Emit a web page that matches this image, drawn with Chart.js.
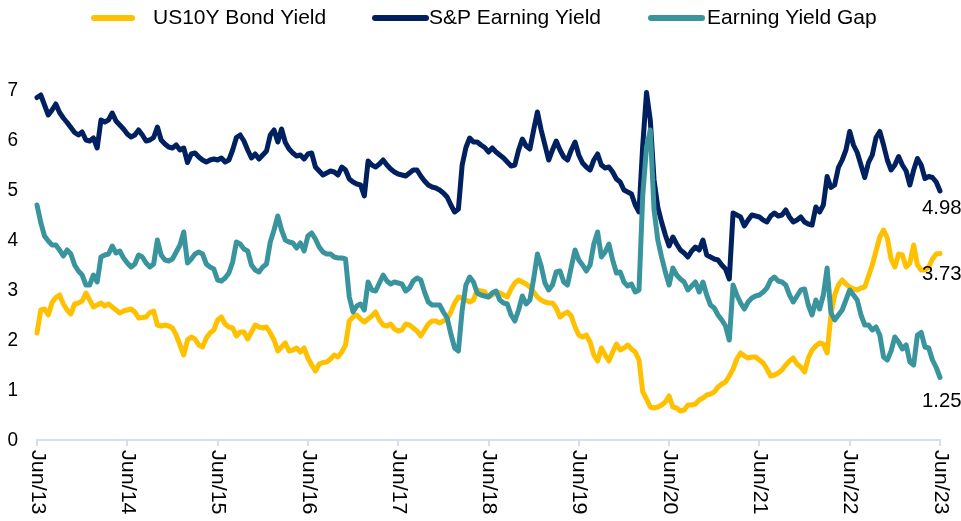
<!DOCTYPE html>
<html>
<head>
<meta charset="utf-8">
<script src="https://cdn.jsdelivr.net/npm/chart.js@4.4.1/dist/chart.umd.min.js"></script>
<style>
  html, body { margin: 0; padding: 0; background: #ffffff; }
  #wrap { width: 961px; height: 521px; }
</style>
</head>
<body>
<div id="wrap"><canvas id="c" width="961" height="521"></canvas></div>
<script>
// ---- Data (half-monthly observations, Jun 2013 .. Jun 2023) ----
const xTickLabels = ['Jun/13','Jun/14','Jun/15','Jun/16','Jun/17','Jun/18','Jun/19','Jun/20','Jun/21','Jun/22','Jun/23'];
const yTickValues = [0, 1, 2, 3, 4, 5, 6, 7];
const seriesNames = ['US10Y Bond Yield', 'S&P Earning Yield', 'Earning Yield Gap'];

const bondYield = [
  2.14,2.60,2.62,2.50,2.75,2.85,2.90,2.72,2.60,2.52,2.72,2.74,2.78,2.94,2.80,2.66,2.70,2.74,2.68,2.72,2.66,2.60,2.54,2.58,
  2.60,2.62,2.56,2.44,2.45,2.46,2.55,2.58,2.30,2.28,2.30,2.28,2.24,2.10,1.90,1.70,2.00,2.06,2.02,1.90,1.86,2.04,2.14,2.20,
  2.40,2.46,2.32,2.26,2.24,2.08,2.16,2.16,2.02,2.16,2.30,2.26,2.24,2.26,2.14,2.00,1.78,1.86,1.94,1.78,1.80,1.84,1.76,1.84,
  1.64,1.50,1.38,1.52,1.55,1.56,1.62,1.70,1.66,1.76,1.90,2.38,2.46,2.50,2.42,2.36,2.42,2.48,2.56,2.40,2.30,2.28,2.32,2.22,
  2.18,2.20,2.32,2.30,2.24,2.18,2.08,2.20,2.32,2.38,2.38,2.34,2.38,2.42,2.56,2.74,2.86,2.84,2.80,2.76,2.80,3.00,2.98,2.96,
  2.86,2.90,2.96,2.94,2.90,2.86,3.02,3.14,3.20,3.16,3.12,3.06,2.96,2.86,2.80,2.76,2.74,2.74,2.64,2.46,2.52,2.56,2.48,2.26,
  2.10,2.06,2.10,1.96,1.70,1.58,1.84,1.70,1.58,1.76,1.92,1.80,1.84,1.90,1.82,1.76,1.60,0.96,0.82,0.66,0.64,0.66,0.70,0.76,
  0.88,0.66,0.64,0.58,0.60,0.70,0.70,0.72,0.80,0.84,0.90,0.92,0.96,1.06,1.12,1.16,1.28,1.42,1.62,1.74,1.68,1.64,1.66,1.66,
  1.60,1.54,1.42,1.28,1.30,1.34,1.40,1.50,1.58,1.64,1.52,1.46,1.36,1.64,1.80,1.88,1.94,1.92,1.74,2.50,2.90,3.10,3.20,3.12,
  3.06,3.02,3.00,3.04,3.06,3.28,3.50,3.78,4.06,4.20,4.04,3.62,3.46,3.72,3.70,3.46,3.54,3.90,3.50,3.40,3.40,3.46,3.62,3.72,
  3.73
];

const spEarningYield = [
  6.85,6.90,6.70,6.50,6.60,6.72,6.55,6.44,6.35,6.25,6.15,6.10,6.16,6.00,5.98,6.04,5.84,6.40,6.36,6.40,6.54,6.38,6.30,6.22,
  6.12,6.06,6.10,6.20,6.10,5.98,6.00,6.05,6.26,6.00,5.92,5.86,5.84,5.90,5.80,5.84,5.55,5.72,5.74,5.66,5.60,5.56,5.60,5.62,
  5.60,5.64,5.56,5.60,5.80,6.05,6.10,5.98,5.80,5.64,5.72,5.62,5.70,5.78,6.10,6.20,5.96,6.22,5.95,5.82,5.74,5.68,5.70,5.62,
  5.72,5.74,5.46,5.38,5.30,5.34,5.38,5.36,5.30,5.46,5.40,5.22,5.16,5.12,5.10,4.88,5.58,5.50,5.46,5.52,5.60,5.50,5.42,5.36,
  5.32,5.30,5.28,5.34,5.40,5.40,5.28,5.18,5.10,5.06,5.04,5.00,4.94,4.86,4.70,4.56,4.62,5.50,5.85,6.04,5.96,5.96,5.90,5.85,
  5.76,5.84,5.76,5.70,5.64,5.56,5.48,5.50,5.80,6.02,5.88,5.82,6.20,6.56,6.20,5.90,5.60,5.80,5.98,5.80,5.66,5.60,5.80,5.96,
  5.70,5.54,5.46,5.40,5.60,5.72,5.50,5.44,5.46,5.36,5.22,5.16,5.00,4.96,4.92,4.70,4.56,5.90,6.95,6.40,5.20,4.66,4.36,4.10,
  3.88,4.06,3.92,3.80,3.74,3.66,3.78,3.86,3.80,4.00,3.70,3.66,3.62,3.60,3.50,3.42,3.22,4.54,4.50,4.46,4.28,4.40,4.50,4.48,
  4.46,4.40,4.36,4.48,4.54,4.48,4.50,4.60,4.46,4.36,4.40,4.46,4.36,4.32,4.30,4.66,4.56,4.70,5.27,5.05,5.10,5.45,5.60,5.80,
  6.17,5.90,5.75,5.50,5.25,5.55,5.70,6.05,6.17,5.90,5.60,5.40,5.50,5.67,5.50,5.38,5.10,5.40,5.63,5.50,5.23,5.27,5.25,5.16,
  4.98
];

const yieldGap = [
  4.70,4.35,4.08,3.98,3.90,3.90,3.80,3.68,3.80,3.72,3.50,3.38,3.30,3.10,3.10,3.30,3.16,3.66,3.70,3.72,3.88,3.74,3.78,3.64,
  3.54,3.46,3.52,3.70,3.66,3.54,3.46,3.52,4.00,3.70,3.60,3.58,3.62,3.76,3.90,4.16,3.54,3.62,3.72,3.76,3.72,3.52,3.46,3.42,
  3.20,3.18,3.24,3.34,3.56,3.96,3.92,3.82,3.78,3.50,3.40,3.36,3.46,3.52,3.96,4.20,4.48,4.20,4.00,3.96,3.94,3.84,3.94,3.78,
  4.08,4.14,4.02,3.86,3.76,3.72,3.72,3.66,3.64,3.64,3.62,2.86,2.56,2.68,2.72,2.60,3.16,3.00,2.98,3.14,3.30,3.18,3.12,3.16,
  3.14,3.12,2.98,3.04,3.18,3.24,3.20,2.96,2.76,2.70,2.70,2.70,2.56,2.44,2.12,1.84,1.78,2.60,3.10,3.26,3.16,2.94,2.90,2.88,
  2.86,2.94,2.98,2.80,2.74,2.72,2.50,2.38,2.60,2.88,2.72,2.80,3.22,3.72,3.48,3.14,3.00,3.10,3.36,3.38,3.16,3.10,3.46,3.80,
  3.60,3.50,3.38,3.50,3.92,4.16,3.66,3.76,3.92,3.60,3.34,3.36,3.16,3.08,3.12,2.96,3.00,4.90,5.86,6.20,4.60,4.00,3.66,3.36,
  3.10,3.44,3.30,3.22,3.16,3.00,3.08,3.16,2.96,3.16,2.90,2.70,2.64,2.50,2.40,2.28,2.00,3.10,2.90,2.74,2.62,2.76,2.84,2.88,
  2.90,2.96,3.04,3.20,3.26,3.18,3.16,3.10,2.90,2.76,2.88,3.00,3.02,2.70,2.50,2.80,2.62,2.90,3.44,2.55,2.40,2.50,2.60,2.80,
  3.00,2.90,2.80,2.50,2.30,2.30,2.20,2.26,2.10,1.66,1.60,1.78,2.06,1.96,1.82,1.90,1.56,1.50,2.10,2.15,1.86,1.84,1.60,1.45,
  1.25
];

// ---- Styling ----
const COLORS = { bond: '#FFC000', ey: '#002060', gap: '#3A949E' };
const AXIS_COLOR = '#D6DDF0';
const FONT_FAMILY = '"Liberation Sans", Arial, sans-serif';

function toPoints(arr) { return arr.map((v, i) => ({ x: i, y: v })); }
const stepPerYear = (bondYield.length - 1) / (xTickLabels.length - 1);

function squashedText(ctx, text, x, y, align, baseline, size, squash) {
  ctx.save();
  ctx.font = size + 'px ' + FONT_FAMILY;
  ctx.translate(x, y);
  ctx.scale(squash, 1);
  ctx.textAlign = align;
  ctx.textBaseline = baseline;
  ctx.fillStyle = '#000000';
  ctx.fillText(text, 0, 0);
  ctx.restore();
}

const decorPlugin = {
  id: 'decor',
  beforeDraw(chart) {
    const ctx = chart.ctx;
    ctx.save();
    ctx.fillStyle = '#ffffff';
    ctx.fillRect(0, 0, chart.width, chart.height);
    ctx.restore();
  },
  afterDraw(chart) {
    const ctx = chart.ctx;
    const xs = chart.scales.x, ys = chart.scales.y;
    // y tick labels
    yTickValues.forEach(v => {
      squashedText(ctx, String(v), xs.left - 19, ys.getPixelForValue(v), 'right', 'middle', 20, 0.95);
    });
    // x tick labels, rotated clockwise
    xTickLabels.forEach((lab, k) => {
      const px = xs.getPixelForValue(k * stepPerYear);
      ctx.save();
      ctx.font = '21.5px ' + FONT_FAMILY;
      ctx.translate(px, ys.bottom + 10);
      ctx.scale(0.9, 1);
      ctx.rotate(Math.PI / 2);
      ctx.textAlign = 'left';
      ctx.textBaseline = 'middle';
      ctx.fillStyle = '#000000';
      ctx.fillText(lab, 0, 0);
      ctx.restore();
    });
    // end value labels
    const last = bondYield.length - 1;
    [[spEarningYield, 17], [bondYield, 21], [yieldGap, 24]].forEach(([arr, dy]) => {
      const v = arr[last];
      squashedText(ctx, v.toFixed(2), xs.getPixelForValue(last) - 18, ys.getPixelForValue(v) + dy, 'left', 'middle', 21, 0.97);
    });
    // legend
    const legend = [
      { name: seriesNames[0], color: COLORS.bond, x0: 94, x1: 132, tx: 153 },
      { name: seriesNames[1], color: COLORS.ey, x0: 375, x1: 426, tx: 429 },
      { name: seriesNames[2], color: COLORS.gap, x0: 651, x1: 702, tx: 707 }
    ];
    legend.forEach(it => {
      ctx.save();
      ctx.strokeStyle = it.color;
      ctx.lineWidth = 6;
      ctx.lineCap = 'round';
      ctx.beginPath();
      ctx.moveTo(it.x0, 18);
      ctx.lineTo(it.x1, 18);
      ctx.stroke();
      ctx.restore();
      squashedText(ctx, it.name, it.tx, 18, 'left', 'middle', 21, 1);
    });
  }
};

const lineStyle = { borderWidth: 5, pointRadius: 0, tension: 0, borderJoinStyle: 'round', borderCapStyle: 'round', fill: false, clip: false };

new Chart(document.getElementById('c'), {
  type: 'line',
  data: {
    datasets: [
      Object.assign({ label: seriesNames[0], data: toPoints(bondYield), borderColor: COLORS.bond, order: 1 }, lineStyle),
      Object.assign({ label: seriesNames[1], data: toPoints(spEarningYield), borderColor: COLORS.ey, order: 2 }, lineStyle),
      Object.assign({ label: seriesNames[2], data: toPoints(yieldGap), borderColor: COLORS.gap, order: 0 }, lineStyle)
    ]
  },
  options: {
    responsive: false,
    animation: false,
    devicePixelRatio: 1,
    layout: { padding: { top: 90, right: 21, bottom: 0, left: 0 } },
    plugins: { legend: { display: false }, tooltip: { enabled: false } },
    scales: {
      x: {
        type: 'linear', min: 0, max: bondYield.length - 1,
        ticks: { display: false, stepSize: stepPerYear },
        grid: { display: true, drawOnChartArea: false, drawTicks: true, tickLength: 6, color: AXIS_COLOR, lineWidth: 2 },
        border: { display: true, color: AXIS_COLOR, width: 2 },
        afterFit(s) { s.height = 81; }
      },
      y: {
        min: 0, max: 7,
        ticks: { display: false, stepSize: 1 },
        grid: { display: false, drawTicks: false },
        border: { display: false },
        afterFit(s) { s.width = 37; }
      }
    }
  },
  plugins: [decorPlugin]
});
</script>
</body>
</html>
